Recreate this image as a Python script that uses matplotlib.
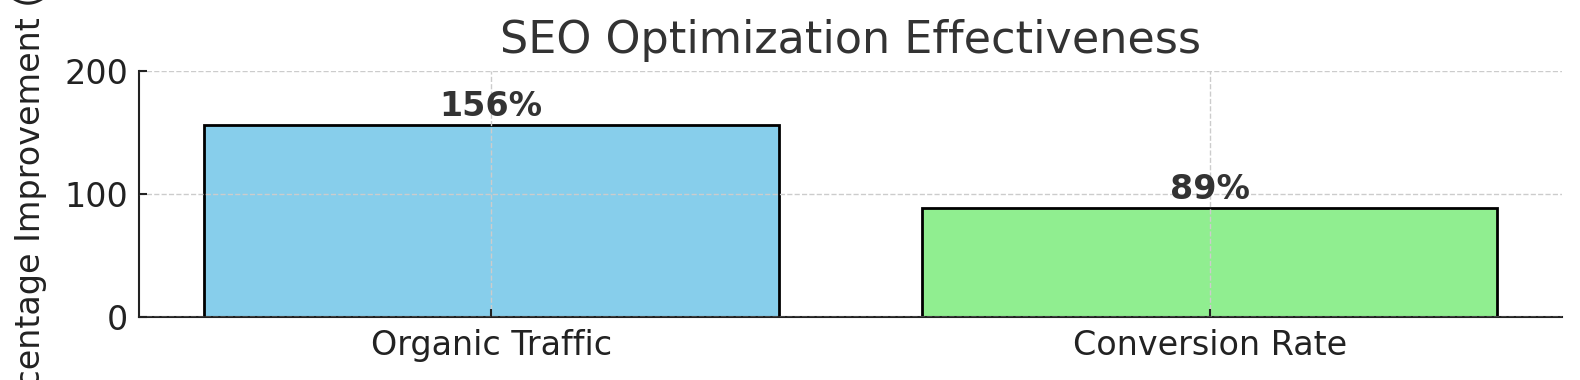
import matplotlib
matplotlib.use("Agg")
from matplotlib import pyplot as plt

categories = ["Organic Traffic", "Conversion Rate"]
improvement = [156, 89]
bar_colors = ["skyblue", "lightgreen"]

fig = plt.figure(figsize=(15.8, 3.8), dpi=100)
ax = fig.add_axes([0.088, 0.166, 0.9006, 0.647])

bars = ax.bar(categories, improvement, color=bar_colors, edgecolor="black",
              linewidth=2, width=0.8)
for bar, value in zip(bars, improvement):
    ax.text(bar.get_x() + bar.get_width() / 2, value + 1.5, f"{value}%",
            ha="center", va="bottom", fontsize=24, fontweight="bold",
            color="#333333")

ax.set_ylim(0, 200)
ax.set_yticks([0, 100, 200])
ax.set_title("SEO Optimization Effectiveness", fontsize=32, color="#333333",
             pad=13)
ax.set_ylabel("Percentage Improvement (%)", fontsize=24, color="#222222",
              labelpad=12)
ax.tick_params(axis="both", direction="in", labelsize=24, colors="#222222",
               length=6, width=1.5)
ax.tick_params(axis="y", pad=8)
ax.tick_params(axis="x", pad=9)
ax.grid(True, linestyle="--", color="#cccccc", linewidth=1)
ax.set_axisbelow(False)
for side in ["top", "right"]:
    ax.spines[side].set_visible(False)
for side in ["left", "bottom"]:
    ax.spines[side].set_linewidth(1.5)
    ax.spines[side].set_color("#222222")

plt.savefig("out.png", dpi=100)
